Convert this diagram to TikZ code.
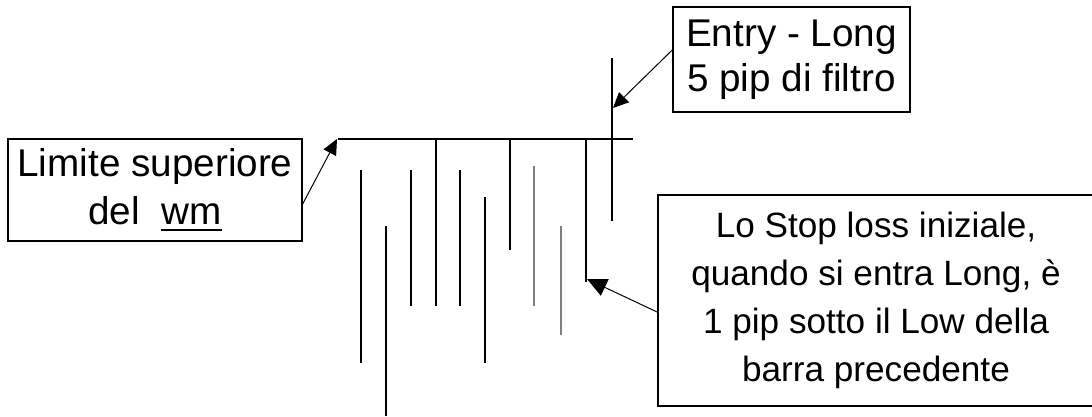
\documentclass[tikz,border=0pt]{standalone}
\usepackage{fontspec}
\setmainfont{Liberation Sans}
\usetikzlibrary{arrows.meta}

% underline used for the "wm" word
\newcommand{\wmunder}[1]{\setbox0\hbox{#1}\rlap{\rule[-4.5pt]{\wd0}{1.8pt}}\box0}

\begin{document}
\begin{tikzpicture}[x=0.025cm,y=-0.025cm,
  note/.style={draw,line width=0.9pt,align=center,inner sep=0pt},
  pointer/.style={line width=0.7pt,-{Triangle[length=11pt,width=10pt]}},
  bar/.style={line width=1.3pt}]

% Page frame (pixels of the original drawing)
\useasboundingbox (0,0) rectangle (1092,416);

% The upper limit of the range
\draw[bar] (338,139) -- (633,139);

% The bars (black)
\draw [bar] (361,170) -- (361,363)
            (386,226) -- (386,416)
            (411,170) -- (411,306)
            (436,139) -- (436,306)
            (460,170) -- (460,306)
            (485,197) -- (485,363)
            (510,139) -- (510,250)
            (586,139) -- (586,282)
            (612,58)  -- (612,221);

% The bars (lighter)
\draw [bar,gray] (534,166) -- (534,306)
                 (561,226) -- (561,335);

% Points where the arrows end
\coordinate (wmTip)    at (337,139);
\coordinate (entryTip) at (613,108);
\coordinate (stopTip)  at (587,279);

% The three notes
\node[note,font=\fontsize{27.5}{34}\selectfont,
      minimum width=7.35cm,minimum height=2.55cm] (wm) at (155,190)
      {Limite superiore\\del\ \ \wmunder{wm}};
\node[note,font=\fontsize{27.5}{32}\selectfont,
      minimum width=5.925cm,minimum height=2.625cm] (entry) at (791.5,59.5)
      {Entry - Long\\5 pip di filtro};
\node[note,font=\fontsize{25}{34}\selectfont,
      minimum width=10.9cm,minimum height=5.275cm] (stop) at (876,300.5)
      {Lo Stop loss iniziale,\\quando si entra Long, è\\1 pip sotto il Low della\\barra precedente};

% Arrows from the notes
\draw[pointer] ([yshift=-0.35cm]wm.east)   -- (wmTip);
\draw[pointer] ([yshift=0.24cm]entry.west) -- (entryTip);
\draw[pointer,-{Triangle[length=14pt,width=13pt]}]
               ([yshift=-0.29cm]stop.west) -- (stopTip);
\end{tikzpicture}
\end{document}
